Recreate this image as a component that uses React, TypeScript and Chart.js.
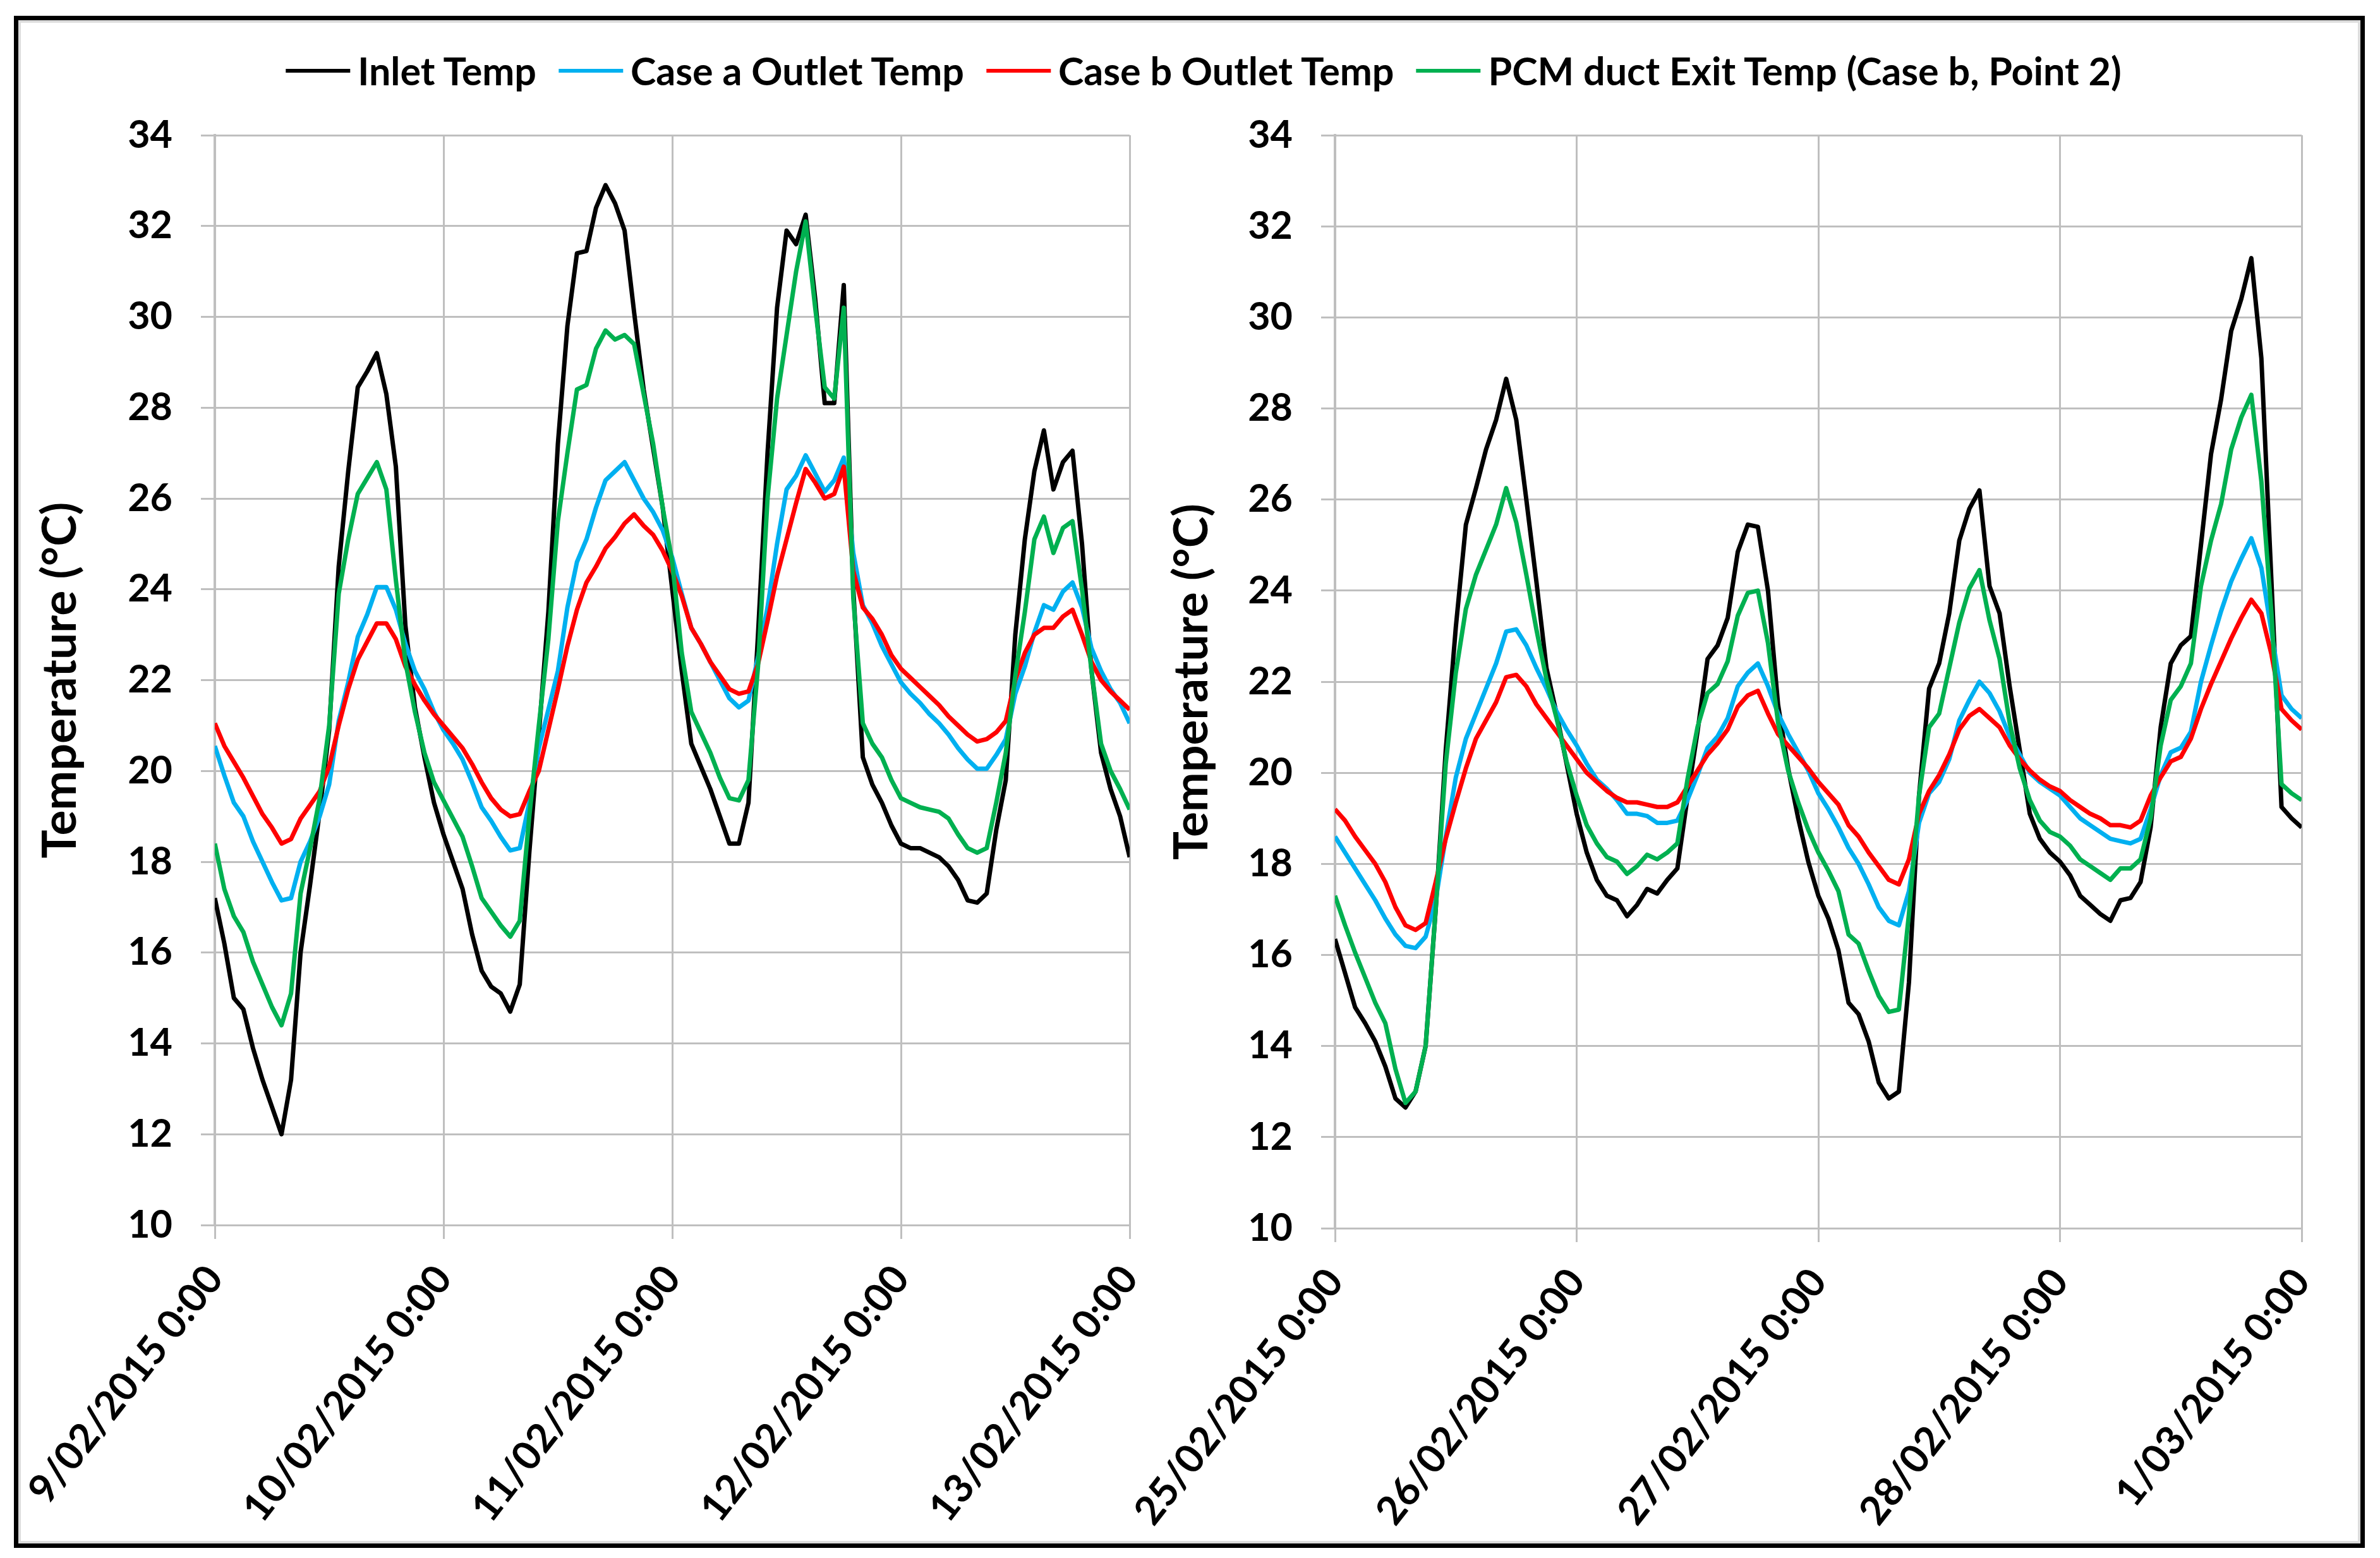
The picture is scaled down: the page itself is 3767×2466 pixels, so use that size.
import React, { useEffect, useRef } from 'react';
import { Chart, registerables } from 'chart.js';

Chart.register(...registerables);

const FONT = 'Lato, "Open Sans", "DejaVu Sans", sans-serif';

// Hours since the first tick of each panel (hourly records, 4 days)
const hours = [
  0, 1, 2, 3, 4, 5, 6, 7, 8, 9, 10, 11, 12, 13, 14, 15, 16, 17, 18, 19, 20, 21, 22, 23,
  24, 25, 26, 27, 28, 29, 30, 31, 32, 33, 34, 35, 36, 37, 38, 39, 40, 41, 42, 43, 44, 45, 46, 47,
  48, 49, 50, 51, 52, 53, 54, 55, 56, 57, 58, 59, 60, 61, 62, 63, 64, 65, 66, 67, 68, 69, 70, 71,
  72, 73, 74, 75, 76, 77, 78, 79, 80, 81, 82, 83, 84, 85, 86, 87, 88, 89, 90, 91, 92, 93, 94, 95, 96,
];

const leftDateLabels = ['9/02/2015 0:00', '10/02/2015 0:00', '11/02/2015 0:00', '12/02/2015 0:00', '13/02/2015 0:00'];
const rightDateLabels = ['25/02/2015 0:00', '26/02/2015 0:00', '27/02/2015 0:00', '28/02/2015 0:00', '1/03/2015 0:00'];
const dateTickHours = [0, 24, 48, 72, 96];

const seriesNames = ['Inlet Temp', 'Case a Outlet Temp', 'Case b Outlet Temp', 'PCM duct Exit Temp (Case b, Point 2)'];
const seriesColors = ['#000000', '#00B0F0', '#FF0000', '#00B050'];

const yTickValues = [10, 12, 14, 16, 18, 20, 22, 24, 26, 28, 30, 32, 34];
const yAxisTitle = 'Temperature (°C)';

// ---- Left panel: 9/02/2015 - 13/02/2015 ----
const leftInlet = [
  17.2, 16.2, 15.0, 14.75, 13.9, 13.2, 12.6, 12.0, 13.2, 16.0, 17.5, 19.1, 20.9, 24.5, 26.6, 28.45, 28.8, 29.2, 28.3, 26.7, 23.2, 21.4, 20.3, 19.3,
  18.6, 18.0, 17.4, 16.4, 15.6, 15.25, 15.1, 14.7, 15.3, 18.2, 20.8, 23.5, 27.2, 29.8, 31.4, 31.45, 32.4, 32.9, 32.5, 31.9, 30.1, 28.4, 27.1, 25.8,
  24.0, 22.2, 20.6, 20.1, 19.6, 19.0, 18.4, 18.4, 19.3, 23.0, 27.0, 30.2, 31.9, 31.6, 32.25, 30.4, 28.1, 28.1, 30.7, 24.0, 20.3, 19.7, 19.3, 18.8,
  18.4, 18.3, 18.3, 18.2, 18.1, 17.9, 17.6, 17.15, 17.1, 17.3, 18.7, 19.8, 23.0, 25.1, 26.6, 27.5, 26.2, 26.8, 27.05, 25.0, 22.2, 20.4, 19.6, 19.0, 18.1,
];
const leftCaseA = [
  20.55, 19.9, 19.3, 19.0, 18.45, 18.0, 17.55, 17.15, 17.2, 18.0, 18.45, 19.0, 19.7, 21.1, 21.95, 22.95, 23.45, 24.05, 24.05, 23.55, 22.8, 22.2, 21.8, 21.3,
  20.9, 20.6, 20.25, 19.75, 19.2, 18.9, 18.55, 18.25, 18.3, 19.3, 20.5, 21.35, 22.2, 23.6, 24.6, 25.1, 25.8, 26.4, 26.6, 26.8, 26.4, 26.0, 25.7, 25.3,
  24.7, 23.9, 23.15, 22.8, 22.4, 22.0, 21.6, 21.4, 21.55, 22.5, 23.6, 25.0, 26.2, 26.5, 26.95, 26.55, 26.15, 26.4, 26.9, 24.8, 23.65, 23.25, 22.75, 22.35,
  21.95, 21.7, 21.5, 21.25, 21.05, 20.8, 20.5, 20.25, 20.05, 20.05, 20.35, 20.7, 21.7, 22.3, 23.05, 23.65, 23.55, 23.95, 24.15, 23.6, 22.7, 22.2, 21.8, 21.5, 21.05,
];
const leftCaseB = [
  21.05, 20.55, 20.2, 19.85, 19.45, 19.05, 18.75, 18.4, 18.5, 18.95, 19.25, 19.55, 20.1, 21.0, 21.8, 22.45, 22.85, 23.25, 23.25, 22.9, 22.3, 21.9, 21.55, 21.25,
  21.0, 20.75, 20.5, 20.15, 19.75, 19.4, 19.15, 19.0, 19.05, 19.55, 20.0, 20.9, 21.8, 22.75, 23.55, 24.15, 24.5, 24.9, 25.15, 25.45, 25.65, 25.4, 25.2, 24.85,
  24.4, 23.85, 23.15, 22.8, 22.4, 22.1, 21.8, 21.7, 21.75, 22.35, 23.3, 24.3, 25.1, 25.9, 26.65, 26.35, 26.0, 26.1, 26.7, 24.4, 23.6, 23.35, 23.0, 22.55,
  22.25, 22.05, 21.85, 21.65, 21.45, 21.2, 21.0, 20.8, 20.65, 20.7, 20.85, 21.1, 22.0, 22.6, 23.0, 23.15, 23.15, 23.4, 23.55, 23.0, 22.4, 22.0, 21.75, 21.55, 21.35,
];
const leftPcm = [
  18.4, 17.4, 16.8, 16.45, 15.8, 15.3, 14.8, 14.4, 15.1, 17.3, 18.3, 19.4, 21.0, 23.9, 25.1, 26.1, 26.45, 26.8, 26.2, 24.2, 22.4, 21.3, 20.4, 19.75,
  19.35, 18.95, 18.55, 17.9, 17.2, 16.9, 16.6, 16.35, 16.7, 19.0, 21.0, 22.9, 25.5, 27.0, 28.4, 28.5, 29.3, 29.7, 29.5, 29.6, 29.4, 28.3, 27.2, 25.8,
  24.6, 22.6, 21.3, 20.85, 20.4, 19.85, 19.4, 19.35, 19.8, 22.3, 26.0, 28.2, 29.6, 31.0, 32.1, 30.2, 28.45, 28.2, 30.2, 23.8, 21.05, 20.6, 20.3, 19.8,
  19.4, 19.3, 19.2, 19.15, 19.1, 18.95, 18.6, 18.3, 18.2, 18.3, 19.3, 20.4, 22.1, 23.5, 25.1, 25.6, 24.8, 25.35, 25.5, 24.0, 22.2, 20.6, 20.0, 19.6, 19.15,
];

// ---- Right panel: 25/02/2015 - 1/03/2015 ----
const rightInlet = [
  16.35, 15.6, 14.85, 14.5, 14.1, 13.55, 12.85, 12.65, 13.0, 14.0, 17.0, 20.5, 23.2, 25.45, 26.25, 27.1, 27.75, 28.65, 27.75, 26.0, 24.2, 22.3, 21.3, 20.2,
  19.1, 18.25, 17.65, 17.3, 17.2, 16.85, 17.1, 17.45, 17.35, 17.65, 17.9, 19.45, 20.9, 22.5, 22.8, 23.4, 24.85, 25.45, 25.4, 24.0, 21.5, 20.1, 19.0, 18.05,
  17.3, 16.8, 16.1, 14.95, 14.7, 14.1, 13.2, 12.85, 13.0, 15.4, 19.5, 21.85, 22.4, 23.5, 25.1, 25.8, 26.2, 24.1, 23.5, 21.9, 20.5, 19.1, 18.55, 18.25,
  18.05, 17.75, 17.3, 17.1, 16.9, 16.75, 17.2, 17.25, 17.6, 18.8, 21.0, 22.4, 22.8, 23.0, 25.0, 27.0, 28.2, 29.7, 30.4, 31.3, 29.1, 24.2, 19.25, 19.0, 18.8,
];
const rightCaseA = [
  18.6, 18.25, 17.9, 17.55, 17.2, 16.8, 16.45, 16.2, 16.15, 16.4, 17.2, 18.6, 19.9, 20.75, 21.3, 21.85, 22.4, 23.1, 23.15, 22.8, 22.3, 21.85, 21.35, 20.95,
  20.6, 20.2, 19.85, 19.65, 19.4, 19.1, 19.1, 19.05, 18.9, 18.9, 18.95, 19.4, 19.95, 20.55, 20.8, 21.2, 21.9, 22.2, 22.4, 21.9, 21.3, 20.85, 20.45, 20.05,
  19.55, 19.2, 18.8, 18.35, 18.0, 17.55, 17.05, 16.75, 16.65, 17.4, 18.9, 19.55, 19.8, 20.3, 21.15, 21.6, 22.0, 21.75, 21.35, 20.8, 20.4, 20.0, 19.8, 19.65,
  19.5, 19.25, 19.0, 18.85, 18.7, 18.55, 18.5, 18.45, 18.55, 19.2, 19.95, 20.45, 20.55, 20.9, 22.0, 22.8, 23.55, 24.2, 24.7, 25.15, 24.5, 23.1, 21.7, 21.4, 21.2,
];
const rightCaseB = [
  19.2, 18.95, 18.6, 18.3, 18.0, 17.6, 17.05, 16.65, 16.55, 16.7, 17.6, 18.55, 19.35, 20.1, 20.75, 21.15, 21.55, 22.1, 22.15, 21.9, 21.5, 21.2, 20.9, 20.6,
  20.3, 20.0, 19.8, 19.6, 19.45, 19.35, 19.35, 19.3, 19.25, 19.25, 19.35, 19.7, 20.05, 20.4, 20.65, 20.95, 21.45, 21.7, 21.8, 21.3, 20.85, 20.6, 20.35, 20.1,
  19.8, 19.55, 19.3, 18.85, 18.6, 18.25, 17.95, 17.65, 17.55, 18.1, 19.1, 19.6, 19.95, 20.4, 20.95, 21.25, 21.4, 21.2, 21.0, 20.6, 20.3, 20.05, 19.85, 19.7,
  19.6, 19.4, 19.25, 19.1, 19.0, 18.85, 18.85, 18.8, 18.95, 19.5, 19.9, 20.25, 20.35, 20.75, 21.4, 21.95, 22.45, 22.95, 23.4, 23.8, 23.5, 22.6, 21.4, 21.15, 20.95,
];
const rightPcm = [
  17.3, 16.65, 16.05, 15.5, 14.95, 14.5, 13.5, 12.75, 13.0, 14.0, 17.0, 20.2, 22.2, 23.6, 24.35, 24.9, 25.45, 26.25, 25.5, 24.35, 23.15, 22.05, 21.2, 20.25,
  19.5, 18.85, 18.45, 18.15, 18.05, 17.78, 17.95, 18.2, 18.1, 18.25, 18.45, 19.85, 21.0, 21.75, 21.95, 22.45, 23.45, 23.95, 24.0, 22.85, 21.1, 20.05, 19.35, 18.75,
  18.25, 17.85, 17.4, 16.45, 16.25, 15.65, 15.1, 14.75, 14.8, 16.9, 19.5, 21.0, 21.3, 22.3, 23.3, 24.05, 24.45, 23.35, 22.5, 21.1, 20.1, 19.4, 18.95, 18.7,
  18.6, 18.4, 18.1, 17.95, 17.8, 17.65, 17.9, 17.9, 18.1, 19.0, 20.6, 21.6, 21.9, 22.4, 24.1, 25.1, 25.9, 27.1, 27.8, 28.3, 26.4, 23.5, 19.75, 19.55, 19.4,
];

const leftSeries = [leftInlet, leftCaseA, leftCaseB, leftPcm];
const rightSeries = [rightInlet, rightCaseA, rightCaseB, rightPcm];

const GRID = '#bfbfbf';

type PanelOpts = {
  series: number[][];
  dates: string[];
  yWidth: number;
  xHeight: number;
  titlePad: number;
  padRight: number;
  padTop: number;
};

function makeConfig(p: PanelOpts): any {
  const datasets = p.series.map((vals, si) => ({
    label: seriesNames[si],
    data: vals.map((v, i) => ({ x: hours[i], y: v })),
    borderColor: seriesColors[si],
    backgroundColor: seriesColors[si],
    borderWidth: 7,
    borderJoinStyle: 'round',
    pointRadius: 0,
    pointHoverRadius: 0,
    tension: 0,
    fill: false,
    order: 4 - si,
  }));
  return {
    type: 'line',
    data: { datasets },
    options: {
      animation: false,
      responsive: false,
      maintainAspectRatio: false,
      events: [],
      layout: { padding: { left: 0, right: p.padRight, top: p.padTop, bottom: 0 } },
      plugins: { legend: { display: false }, tooltip: { enabled: false }, title: { display: false } },
      scales: {
        x: {
          type: 'linear',
          min: dateTickHours[0],
          max: dateTickHours[dateTickHours.length - 1],
          afterBuildTicks: (s: any) => {
            s.ticks = dateTickHours.map((v) => ({ value: v }));
          },
          ticks: {
            autoSkip: false,
            minRotation: 52,
            maxRotation: 52,
            padding: 28,
            color: '#000',
            font: { family: FONT, size: 63, weight: 'bold' },
            callback: (v: number) => p.dates[dateTickHours.indexOf(v)] ?? '',
          },
          grid: { color: GRID, lineWidth: 3, tickLength: 22, drawTicks: true },
          border: { display: true, color: GRID, width: 3 },
          afterFit: (s: any) => {
            s.height = p.xHeight;
            s.paddingLeft = 0;
            s.paddingRight = 0;
          },
        },
        y: {
          type: 'linear',
          min: yTickValues[0],
          max: yTickValues[yTickValues.length - 1],
          afterBuildTicks: (s: any) => {
            s.ticks = yTickValues.map((v) => ({ value: v }));
          },
          ticks: {
            padding: 45,
            color: '#000',
            font: { family: FONT, size: 61, weight: 'bold' },
          },
          grid: { color: GRID, lineWidth: 3, tickLength: 22, drawTicks: true },
          border: { display: true, color: GRID, width: 4 },
          title: {
            display: true,
            text: yAxisTitle,
            color: '#000',
            font: { family: FONT, size: 75, weight: 'bold', lineHeight: 1.2 },
            padding: { top: p.titlePad, bottom: 0 },
          },
          afterFit: (s: any) => {
            s.width = p.yWidth;
            s.paddingTop = 0;
            s.paddingBottom = 0;
          },
        },
      },
    },
  };
}

function Panel(props: { left: number; top: number; width: number; height: number; opts: PanelOpts }) {
  const ref = useRef<HTMLCanvasElement>(null);
  useEffect(() => {
    let chart: Chart | null = null;
    let cancelled = false;
    const build = () => {
      if (cancelled || !ref.current) return;
      chart = new Chart(ref.current, makeConfig(props.opts));
    };
    const fonts = (document as any).fonts;
    if (fonts && fonts.load) {
      Promise.all([fonts.load(`bold 60px Lato`), fonts.load(`bold 75px Lato`)]).then(build, build);
    } else {
      build();
    }
    return () => {
      cancelled = true;
      if (chart) chart.destroy();
    };
  }, []);
  return (
    <canvas
      ref={ref}
      width={props.width}
      height={props.height}
      style={{ position: 'absolute', left: props.left, top: props.top, width: props.width, height: props.height }}
    />
  );
}

function Legend() {
  return (
    <div
      style={{
        position: 'absolute',
        top: 76,
        left: 1905,
        transform: 'translateX(-50%)',
        display: 'flex',
        alignItems: 'center',
        whiteSpace: 'nowrap',
        height: 72,
        lineHeight: '72px',
        fontFamily: FONT,
        fontWeight: 700,
        fontSize: 61,
        color: '#000',
      }}
    >
      {seriesNames.map((n, i) => (
        <div key={n} style={{ display: 'flex', alignItems: 'center', marginRight: i < seriesNames.length - 1 ? 35 : 0 }}>
          <span style={{ display: 'inline-block', width: 102, height: 6, background: seriesColors[i], marginRight: 12 }} />
          <span>{n}</span>
        </div>
      ))}
    </div>
  );
}

export default function App() {
  const leftOpts: PanelOpts = {
    series: leftSeries,
    dates: leftDateLabels,
    yWidth: 310,
    xHeight: 491,
    titlePad: 21,
    padRight: 32,
    padTop: 64,
  };
  const rightOpts: PanelOpts = {
    series: rightSeries,
    dates: rightDateLabels,
    yWidth: 353,
    xHeight: 486,
    titlePad: 82,
    padRight: 67,
    padTop: 64,
  };
  return (
    <div style={{ position: 'absolute', left: 0, top: 0, width: 3767, height: 2466, background: '#fff' }}>
      <div
        style={{
          position: 'absolute',
          left: 22,
          top: 25,
          width: 3721,
          height: 2425,
          boxSizing: 'border-box',
          border: '7px solid #000',
          boxShadow: 'inset 0 0 0 4px #dcdcdc',
          background: '#fff',
        }}
      />
      <Legend />
      <Panel left={30} top={150} width={1790} height={2280} opts={leftOpts} />
      <Panel left={1760} top={150} width={1950} height={2280} opts={rightOpts} />
    </div>
  );
}
